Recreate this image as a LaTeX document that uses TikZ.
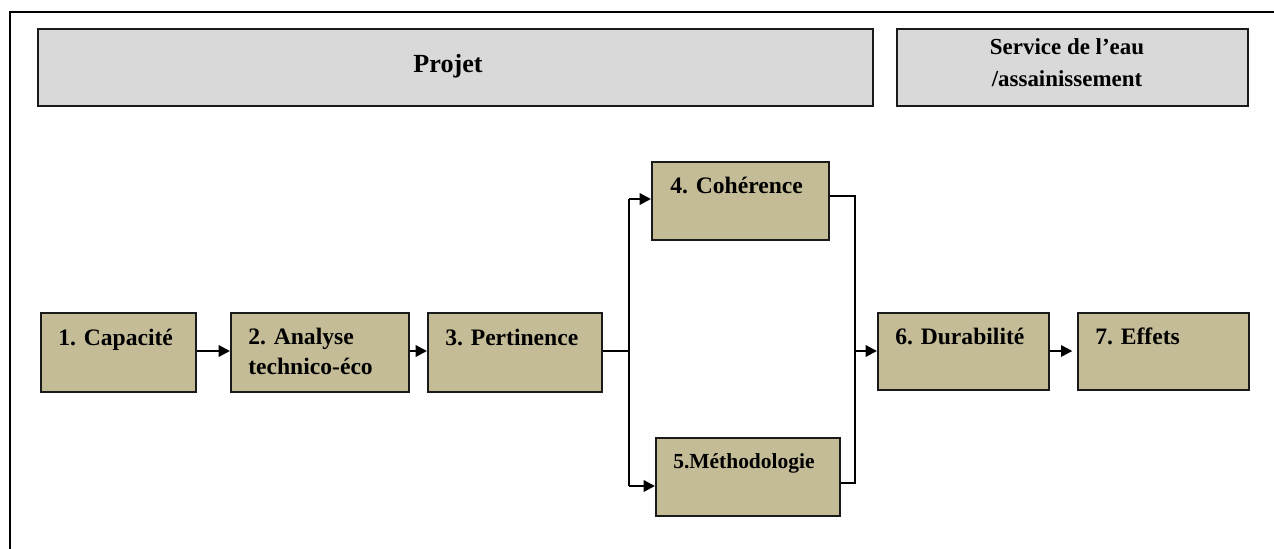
\documentclass[tikz,border=0pt]{standalone}
\usepackage{fontspec}
\setmainfont{Liberation Serif}
\usetikzlibrary{fit,arrows.meta}
\definecolor{tan}{HTML}{C4BC97}
\definecolor{hdr}{HTML}{D9D9D9}
\definecolor{edge}{HTML}{1A1A1A}
\begin{document}
\begin{tikzpicture}[x=0.75pt,y=-0.75pt,
  box/.style={draw=edge,line width=1.5pt,fill=tan,inner sep=0pt},
  hbox/.style={draw=edge,line width=1.2pt,fill=hdr,inner sep=0pt},
  lbl/.style={inner sep=0pt,font=\bfseries\fontsize{17.7}{22.5}\selectfont,align=left},
  slbl/.style={inner sep=0pt,font=\bfseries\fontsize{16.1}{22.5}\selectfont,align=left},
  hlbl/.style={inner sep=0pt,font=\bfseries\fontsize{17.2}{24}\selectfont,align=center},
  conn/.style={line width=1.7pt,draw=black},
  arr/.style={conn,-{Triangle[length=8.5pt,width=8.5pt]}}]
\useasboundingbox (0,0) rectangle (1274,549);
\fill[white] (0,0) rectangle (1274,549);
% frame
\draw[line width=1.8pt] (10,560) -- (10,12) -- (1290,12);
% headers
\node[hbox,fit={(38,29) (873,106)}] (proj) {};
\node[hlbl,anchor=base,font=\bfseries\fontsize{19.6}{24}\selectfont] (tproj) at (448,73) {Projet};
\node[hbox,fit={(897,29) (1248,106)}] (serv) {};
\node[hlbl,anchor=base] (tserv) at (1067,87) {Service de l’eau\\/assainissement};
% boxes
\node[box,fit={(41,313) (196,392)}] (b1) {};
\node[box,fit={(231,313) (409,392)}] (b2) {};
\node[box,fit={(428,313) (602,392)}] (b3) {};
\node[box,fit={(652,162) (829,240)}] (b4) {};
\node[box,fit={(656,438) (840,516)}] (b5) {};
\node[box,fit={(878,313) (1049,390)}] (b6) {};
\node[box,fit={(1078,313) (1249,390)}] (b7) {};
% labels
\node[lbl,anchor=base west] (t1) at (58,345) {1. Capacité};
\node[lbl,anchor=base west] (t2) at (248,374) {2. Analyse\\technico-éco};
\node[lbl,anchor=base west] (t3) at (445,345) {3. Pertinence};
\node[lbl,anchor=base west] (t4) at (670,194) {4. Cohérence};
\node[slbl,anchor=base west] (t5) at (673,468) {5.Méthodologie};
\node[lbl,anchor=base west] (t6) at (895,344) {6. Durabilité};
\node[lbl,anchor=base west] (t7) at (1095,344) {7. Effets};
% junction coordinates
\coordinate (j1) at (629,351);
\coordinate (j1a) at (629,199);
\coordinate (j1b) at (629,486);
\coordinate (j2) at (855,351);
\coordinate (j2a) at (855,196);
\coordinate (j2b) at (855,483);
% connectors
\draw[arr] (b1.east |- j1) -- (b2.west |- j1);
\draw[arr] (b2.east |- j1) -- (b3.west |- j1);
\draw[conn] (b3.east |- j1) -- (j1);
\draw[conn] (j1a) -- (j1b);
\draw[arr] (j1a) -- (b4.west |- j1a);
\draw[arr] (j1b) -- (b5.west |- j1b);
\draw[conn] (b4.east |- j2a) -- (j2a) -- (j2b) -- (b5.east |- j2b);
\draw[arr] (j2) -- (b6.west |- j2);
\draw[arr,shorten >=3.5pt] (b6.east |- j2) -- (b7.west |- j2);
\end{tikzpicture}
\end{document}
